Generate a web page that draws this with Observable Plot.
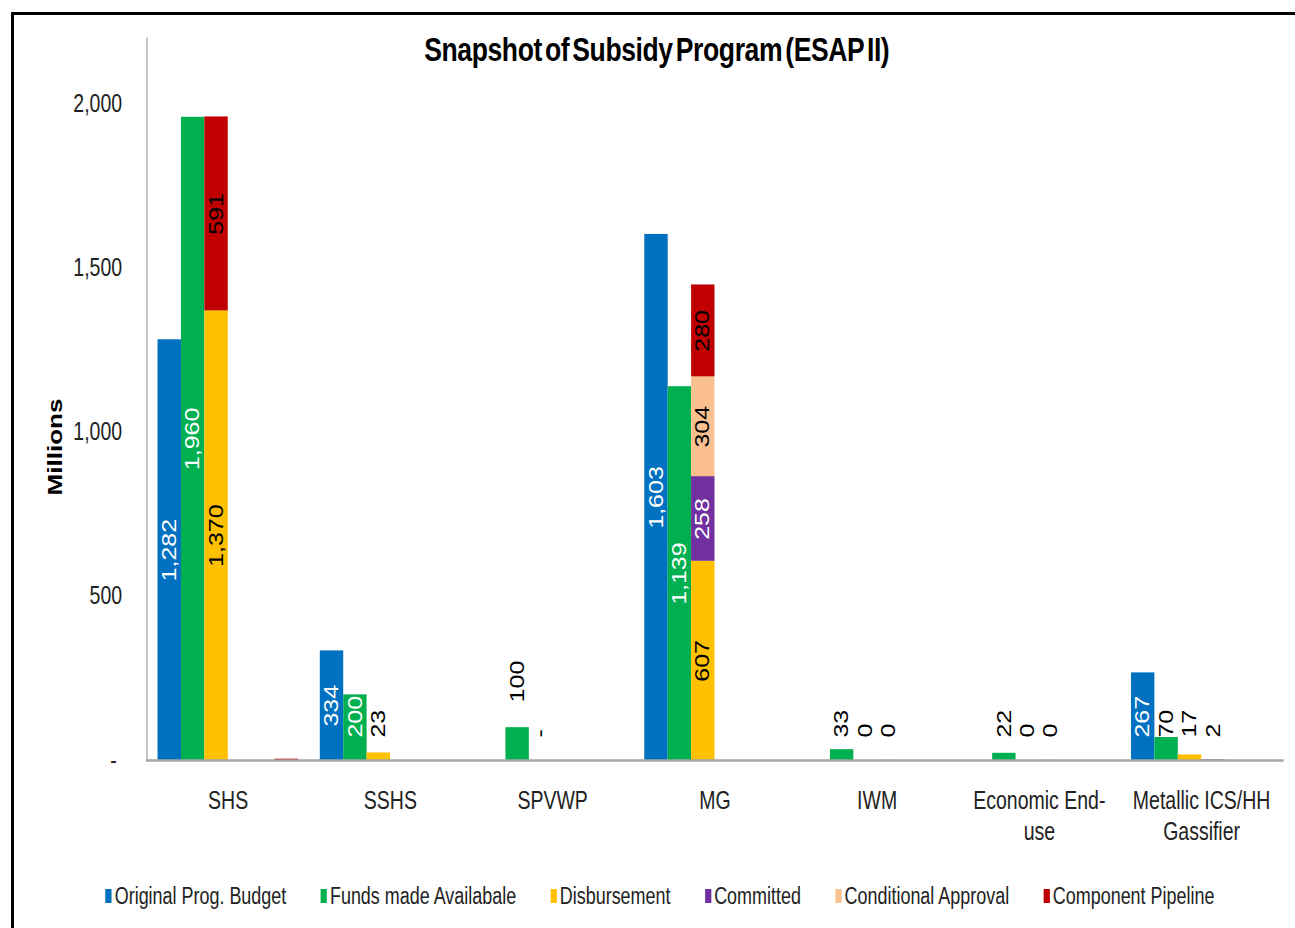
<!DOCTYPE html>
<html>
<head>
<meta charset="utf-8">
<script src="https://cdn.jsdelivr.net/npm/d3@7"></script>
<script src="https://cdn.jsdelivr.net/npm/@observablehq/plot@0.6"></script>
<style>
  html, body { margin: 0; padding: 0; background: #fff; overflow: hidden; width: 1295px; height: 928px; }
  #border { position: absolute; left: 11px; top: 12px; width: 1400px; height: 1000px; border: 3px solid #000; box-sizing: border-box; }
  #stage { position: absolute; left: 0; top: 0; width: 1660px; height: 928px; transform: scaleX(0.78); transform-origin: 0 0; }
  #title { position: absolute; left: 0; top: 29px; width: 1684px; text-align: center; font-family: "Liberation Sans", Arial, sans-serif; font-weight: bold; font-size: 34px; line-height: 40px; letter-spacing: -0.5px; word-spacing: -5px; color: #000; }
  #ylabel { position: absolute; left: 70px; top: 447px; transform: translate(-50%, -50%) rotate(-90deg); font-family: "Liberation Sans", Arial, sans-serif; font-weight: bold; font-size: 26px; line-height: 30px; color: #000; white-space: nowrap; }
  #plot { position: absolute; left: 0; top: 0; }
  #legend { position: absolute; left: 0; top: 880px; width: 1692px; display: flex; justify-content: center; gap: 44px; font-family: "Liberation Sans", Arial, sans-serif; font-size: 23px; line-height: 32px; color: #222; }
  #legend .item { display: flex; align-items: center; }
  #legend .sw { width: 8px; height: 14px; margin-right: 4px; }
</style>
</head>
<body>
<div id="border"></div>
<div id="stage">
  <div id="title"></div>
  <div id="plot"></div>
  <div id="ylabel"></div>
  <div id="legend"></div>
</div>
<script>
// ---- data ----
const titleText = "Snapshot of Subsidy Program (ESAP II)";
const yLabel = "Millions";
const categories = ["SHS", "SSHS", "SPVWP", "MG", "IWM", "Economic End-use", "Metallic ICS/HH Gassifier"];
const seriesNames = ["Original Prog. Budget", "Funds made Availabale", "Disbursement", "Committed", "Conditional Approval", "Component Pipeline"];
const seriesColors = ["#0070C0", "#00B050", "#FFC000", "#7030A0", "#FAC090", "#C00000"];
const budget       = [1282, 334, null, 1603, null, null, 267];
const funds        = [1960, 200, 100, 1139, 33, 22, 70];
const disbursement = [1370, 23, 0, 607, 0.3, 0.3, 17];
const committed    = [null, null, null, 258, null, null, null];
const conditional  = [null, null, null, 304, null, null, null];
const pipeline     = [591, null, null, 280, null, null, null];
// separate (unstacked) small series shown in the 4th / 6th slot of a group
const committedSeparate = [null, null, null, null, 0.2, 0.2, 2];
const pipelineSeparate  = [4, null, null, null, null, null, null];
const yTicks = [0, 500, 1000, 1500, 2000];
const slots = ["s1", "s2", "s3", "s4", "s5", "s6"];

// ---- table ----
const rows = [];
categories.forEach((cat, i) => {
  const add = (slot, s, v, labeled = true) => { if (v != null) rows.push({cat, slot, series: seriesNames[s], value: v, labeled}); };
  add("s1", 0, budget[i]);
  add("s2", 1, funds[i]);
  add("s3", 2, disbursement[i]);
  add("s3", 3, committed[i]);
  add("s3", 4, conditional[i]);
  add("s3", 5, pipeline[i]);
  add("s4", 3, committedSeparate[i]);
  add("s6", 5, pipelineSeparate[i], false);
});
// stack within each (category, slot)
const acc = new Map();
for (const r of rows) {
  const k = r.cat + "|" + r.slot;
  const base = acc.get(k) || 0;
  r.y1 = base; r.y2 = base + r.value;
  acc.set(k, r.y2);
}
const fmt = v => v === 0 ? "-" : d3.format(",.0f")(v);
const darkFills = new Set([seriesNames[0], seriesNames[1], seriesNames[3]]);
const labels = rows.filter(r => r.labeled).map(r => {
  const h = r.y2 - r.y1;
  let ly, anchor, inside;
  if (h >= 250) { ly = (r.y1 + r.y2) / 2; anchor = "middle"; inside = true; }
  else if (r.value > 70 && r.value < 150) { ly = r.y2 + 77; anchor = "start"; inside = false; }
  else { ly = r.y1 + 70; anchor = "start"; inside = r.y2 > 190; }
  const color = inside && darkFills.has(r.series) ? "#fff" : "#000";
  return {...r, ly, anchor, color, txt: fmt(r.value)};
});
const labelMark = (anchor, color) => Plot.text(labels.filter(d => d.anchor === anchor && d.color === color), {
  fx: "cat", x: "slot", y: "ly", text: "txt", rotate: -90, textAnchor: anchor,
  fill: color, fontSize: 25, fontFamily: "Liberation Sans, Arial, sans-serif"
});

const wrapCat = d => d.replace("End-", "End-\n").replace("ICS/HH ", "ICS/HH\n");

const chart = Plot.plot({
  width: 1660, height: 860,
  marginTop: 38, marginBottom: 100, marginLeft: 188, marginRight: 16,
  style: {fontFamily: "Liberation Sans, Arial, sans-serif", background: "transparent", color: "#222", overflow: "visible"},
  fx: {domain: categories, paddingInner: 0, paddingOuter: 0, label: null},
  x: {domain: slots, paddingInner: 0, paddingOuter: 0.38, axis: null},
  y: {domain: [0, 2200]},
  color: {domain: seriesNames, range: seriesColors},
  marks: [
    Plot.barY(rows, {fx: "cat", x: "slot", y1: "y1", y2: "y2", fill: "series"}),
    labelMark("middle", "#fff"), labelMark("middle", "#000"),
    labelMark("start", "#fff"), labelMark("start", "#000"),
    Plot.frame({anchor: "left", facet: "super", stroke: "#b4b4b4", strokeWidth: 2}),
    Plot.frame({anchor: "bottom", facet: "super", stroke: "#a6a6a6", strokeWidth: 2.5}),
    Plot.axisY({ticks: yTicks, tickSize: 0, tickPadding: 32, fontSize: 25,
      tickFormat: d => d === 0 ? "-\u00a0" : d3.format(",")(d), label: null}),
    Plot.axisFx({anchor: "bottom", tickSize: 0, tickPadding: 26, fontSize: 25, lineHeight: 1.24,
      tickFormat: wrapCat, label: null})
  ]
});
document.getElementById("plot").appendChild(chart);
document.getElementById("title").textContent = titleText;
document.getElementById("ylabel").textContent = yLabel;

const legend = document.getElementById("legend");
seriesNames.forEach((name, i) => {
  const item = document.createElement("div"); item.className = "item";
  const sw = document.createElement("span"); sw.className = "sw"; sw.style.background = seriesColors[i];
  const t = document.createElement("span"); t.textContent = name;
  item.appendChild(sw); item.appendChild(t); legend.appendChild(item);
});
</script>
</body>
</html>
